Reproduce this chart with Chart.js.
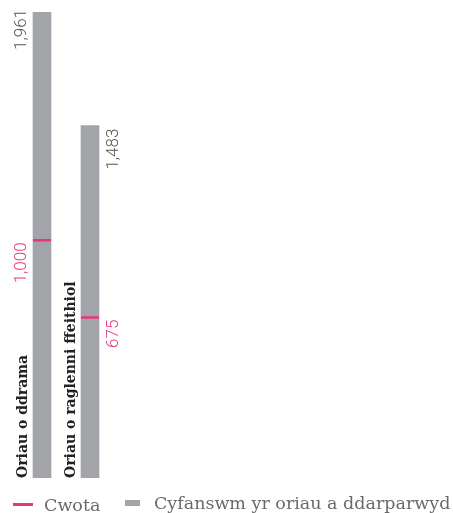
<!DOCTYPE html>
<html>
<head>
<meta charset="utf-8">
<script src="https://cdn.jsdelivr.net/npm/chart.js@4"></script>
<style>
  body { margin: 0; background: #fff; }
  #wrap { position: relative; width: 453px; height: 513px; }
  #legend { position: absolute; left: 13px; top: 490px; font-family: "DejaVu Serif", serif; font-size: 17.5px; color: #6a6a6a; white-space: nowrap; }
  #legend span.item { display: inline-flex; align-items: center; }
  #legend i { display: inline-block; }
</style>
</head>
<body>
<div id="wrap">
  <canvas id="chart" width="453" height="513"></canvas>
  <div id="legend">
    <span class="item" style="margin-right:19px"><i style="width:20px;height:3px;background:#e8357f;margin-right:11px"></i>Cwota</span>
    <span class="item"><i style="width:15px;height:6px;background:#a3a4a9;margin-right:14px"></i>Cyfanswm yr oriau a ddarparwyd</span>
  </div>
</div>
<script>
const categories = ["Oriau o ddrama", "Oriau o raglenni ffeithiol"];
const totals = [1961, 1483];
const quota = [1000, 675];

const pink = "#e8357f";
const gray = "#a3a4a9";

const fmt = (v) => v.toLocaleString("en-US");

// draws the rotated labels next to each bar
const barLabels = {
  id: "barLabels",
  afterDatasetsDraw(chart) {
    const ctx = chart.ctx;
    const bars = chart.getDatasetMeta(0).data;
    const marks = chart.getDatasetMeta(1).data;
    const bottom = chart.chartArea.bottom;

    bars.forEach((bar, i) => {
      const left = bar.x - bar.width / 2;
      const right = bar.x + bar.width / 2;
      const onLeft = i === 0;

      ctx.save();
      ctx.textBaseline = "alphabetic";

      // category name, bottom to top, just left of the bar
      ctx.save();
      ctx.translate(left - 6, bottom);
      ctx.rotate(-Math.PI / 2);
      ctx.font = "bold 14px 'DejaVu Serif', serif";
      ctx.fillStyle = "#222";
      ctx.textAlign = "left";
      ctx.fillText(categories[i], 0, 0);
      ctx.restore();

      // total value
      ctx.save();
      const vx = onLeft ? left - 7 : right + 19;
      ctx.translate(vx, bar.y + (onLeft ? -3 : 3));
      ctx.rotate(-Math.PI / 2);
      ctx.font = "300 17px Roboto, sans-serif";
      ctx.fillStyle = "#555";
      ctx.textAlign = "right";
      ctx.fillText(fmt(totals[i]), 0, 0);
      ctx.restore();

      // quota value
      ctx.save();
      const m = marks[i];
      ctx.translate(vx, m.y + 2);
      ctx.rotate(-Math.PI / 2);
      ctx.font = "300 17px Roboto, sans-serif";
      ctx.fillStyle = pink;
      ctx.textAlign = "right";
      ctx.fillText(fmt(quota[i]), 0, 0);
      ctx.restore();

      ctx.restore();
    });
  }
};

new Chart(document.getElementById("chart"), {
  data: {
    labels: categories,
    datasets: [
      {
        type: "bar",
        label: "Cyfanswm yr oriau a ddarparwyd",
        data: totals,
        backgroundColor: gray,
        barThickness: 18,
        order: 2
      },
      {
        type: "line",
        label: "Cwota",
        data: quota,
        showLine: false,
        pointStyle: "line",
        pointRadius: 9,
        pointHoverRadius: 9,
        borderColor: pink,
        borderWidth: 2.5,
        order: 1
      }
    ]
  },
  options: {
    responsive: false,
    animation: false,
    layout: { padding: { left: 18, right: 339, top: 12, bottom: 35 } },
    scales: {
      x: { display: false, offset: true },
      y: { display: false, min: 0, max: 1961 }
    },
    plugins: {
      legend: { display: false },
      tooltip: { enabled: false }
    }
  },
  plugins: [barLabels]
});
</script>
</body>
</html>
